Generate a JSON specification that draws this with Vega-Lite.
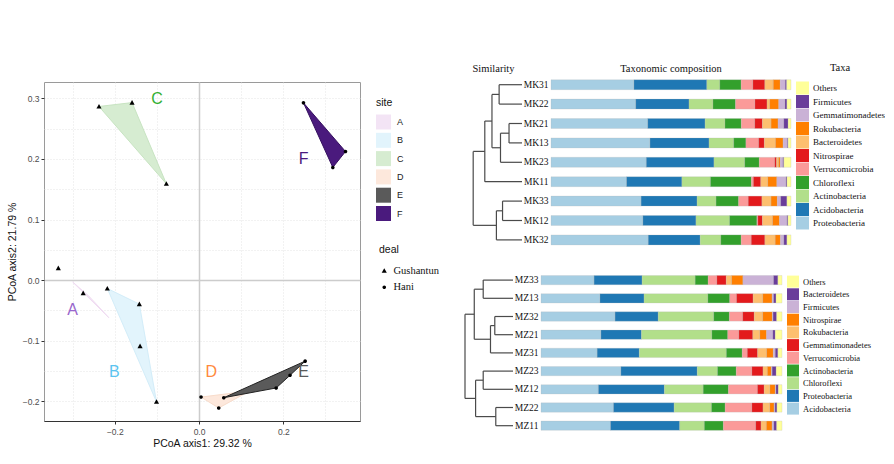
{
 "$schema": "https://vega.github.io/schema/vega-lite/v6.json",
 "background": "white",
 "padding": {"left": 6, "top": 63, "right": 0, "bottom": 0},
 "config": {"view": {"stroke": null}, "font": "Liberation Sans"},
 "datasets": {
  "pts": [
   {"x":-0.2375,"y":0.2866,"deal":"Gushantun"},{"x":-0.159,"y":0.293,"deal":"Gushantun"},{"x":-0.0776,"y":0.159,"deal":"Gushantun"},
   {"x":-0.334,"y":0.0198,"deal":"Gushantun"},{"x":-0.275,"y":-0.0215,"deal":"Gushantun"},{"x":-0.2177,"y":-0.0138,"deal":"Gushantun"},
   {"x":-0.1417,"y":-0.0396,"deal":"Gushantun"},{"x":-0.140,"y":-0.109,"deal":"Gushantun"},{"x":-0.101,"y":-0.2008,"deal":"Gushantun"},
   {"x":0.2478,"y":0.2926,"deal":"Hani"},{"x":0.3476,"y":0.2123,"deal":"Hani"},{"x":0.3175,"y":0.186,"deal":"Hani"},
   {"x":0.0048,"y":-0.193,"deal":"Hani"},{"x":0.0467,"y":-0.211,"deal":"Hani"},{"x":0.0587,"y":-0.194,"deal":"Hani"},
   {"x":0.183,"y":-0.178,"deal":"Hani"},{"x":0.216,"y":-0.157,"deal":"Hani"},{"x":0.2518,"y":-0.1337,"deal":"Hani"}
  ],
  "hulls": [
   {"site":"A","o":1,"x":-0.300,"y":-0.003},{"site":"A","o":2,"x":-0.214,"y":-0.062},{"site":"A","o":3,"x":-0.262,"y":-0.026},
   {"site":"B","o":1,"x":-0.2177,"y":-0.0138},{"site":"B","o":2,"x":-0.1417,"y":-0.0396},{"site":"B","o":3,"x":-0.101,"y":-0.2008},
   {"site":"C","o":1,"x":-0.2375,"y":0.2866},{"site":"C","o":2,"x":-0.159,"y":0.293},{"site":"C","o":3,"x":-0.0776,"y":0.159},
   {"site":"D","o":1,"x":0.0048,"y":-0.193},{"site":"D","o":2,"x":0.0467,"y":-0.211},{"site":"D","o":3,"x":0.12,"y":-0.183},
   {"site":"E","o":1,"x":0.0587,"y":-0.194},{"site":"E","o":2,"x":0.183,"y":-0.178},{"site":"E","o":3,"x":0.216,"y":-0.157},{"site":"E","o":4,"x":0.2518,"y":-0.1337},
   {"site":"F","o":1,"x":0.2478,"y":0.2926},{"site":"F","o":2,"x":0.3476,"y":0.2123},{"site":"F","o":3,"x":0.3175,"y":0.186}
  ],
  "labs": [
   {"site":"A","x":-0.300,"y":-0.050},{"site":"B","x":-0.201,"y":-0.152},{"site":"C","x":-0.0998,"y":0.299},
   {"site":"D","x":0.029,"y":-0.152},{"site":"E","x":0.248,"y":-0.152},{"site":"F","x":0.248,"y":0.2}
  ],
  "dtop": [
   {"h1":0,"h2":67,"y1":0,"y2":0},{"h1":0,"h2":67,"y1":1,"y2":1},{"h1":0,"h2":38,"y1":2,"y2":2},{"h1":0,"h2":38,"y1":3,"y2":3},
   {"h1":0,"h2":63,"y1":4,"y2":4},{"h1":0,"h2":109,"y1":5,"y2":5},{"h1":0,"h2":57,"y1":6,"y2":6},{"h1":0,"h2":57,"y1":7,"y2":7},
   {"h1":0,"h2":75,"y1":8,"y2":8},
   {"h1":67,"h2":88,"y1":0.5,"y2":0.5},{"h1":38,"h2":63,"y1":2.5,"y2":2.5},{"h1":63,"h2":88,"y1":3.25,"y2":3.25},
   {"h1":88,"h2":109,"y1":1.875,"y2":1.875},{"h1":109,"h2":143,"y1":3.4375,"y2":3.4375},{"h1":57,"h2":75,"y1":6.5,"y2":6.5},
   {"h1":75,"h2":143,"y1":7.25,"y2":7.25},
   {"h1":67,"h2":67,"y1":0,"y2":1},{"h1":38,"h2":38,"y1":2,"y2":3},{"h1":63,"h2":63,"y1":2.5,"y2":4},{"h1":88,"h2":88,"y1":0.5,"y2":3.25},
   {"h1":109,"h2":109,"y1":1.875,"y2":5},{"h1":57,"h2":57,"y1":6,"y2":7},{"h1":75,"h2":75,"y1":6.5,"y2":8},{"h1":143,"h2":143,"y1":3.4375,"y2":7.25}
  ],
  "dbot": [
   {"h1":0,"h2":90,"y1":0,"y2":0},{"h1":0,"h2":90,"y1":1,"y2":1},{"h1":0,"h2":55,"y1":2,"y2":2},{"h1":0,"h2":55,"y1":3,"y2":3},
   {"h1":0,"h2":68,"y1":4,"y2":4},{"h1":0,"h2":90,"y1":5,"y2":5},{"h1":0,"h2":90,"y1":6,"y2":6},{"h1":0,"h2":52,"y1":7,"y2":7},
   {"h1":0,"h2":52,"y1":8,"y2":8},
   {"h1":90,"h2":117,"y1":0.5,"y2":0.5},{"h1":55,"h2":68,"y1":2.5,"y2":2.5},{"h1":68,"h2":117,"y1":3.25,"y2":3.25},
   {"h1":117,"h2":145,"y1":1.875,"y2":1.875},{"h1":90,"h2":113,"y1":5.5,"y2":5.5},{"h1":52,"h2":113,"y1":7.5,"y2":7.5},
   {"h1":113,"h2":145,"y1":6.5,"y2":6.5},
   {"h1":90,"h2":90,"y1":0,"y2":1},{"h1":55,"h2":55,"y1":2,"y2":3},{"h1":68,"h2":68,"y1":2.5,"y2":4},{"h1":117,"h2":117,"y1":0.5,"y2":3.25},
   {"h1":90,"h2":90,"y1":5,"y2":6},{"h1":52,"h2":52,"y1":7,"y2":8},{"h1":113,"h2":113,"y1":5.5,"y2":7.5},{"h1":145,"h2":145,"y1":1.875,"y2":6.5}
  ],
  "btop": [
   {"s":"MK31","t":"Proteobacteria","o":1,"v":34.6},{"s":"MK31","t":"Acidobacteria","o":2,"v":30.4},{"s":"MK31","t":"Actinobacteria","o":3,"v":5.4},{"s":"MK31","t":"Chloroflexi","o":4,"v":8.9},{"s":"MK31","t":"Verrucomicrobia","o":5,"v":4.9},{"s":"MK31","t":"Nitrospirae","o":6,"v":5.0},{"s":"MK31","t":"Bacteroidetes","o":7,"v":3.5},{"s":"MK31","t":"Rokubacteria","o":8,"v":2.9},{"s":"MK31","t":"Gemmatimonadetes","o":9,"v":2.1},{"s":"MK31","t":"Firmicutes","o":10,"v":0.6},{"s":"MK31","t":"Others","o":11,"v":1.8},
   {"s":"MK22","t":"Proteobacteria","o":1,"v":35.3},{"s":"MK22","t":"Acidobacteria","o":2,"v":22.2},{"s":"MK22","t":"Actinobacteria","o":3,"v":10.0},{"s":"MK22","t":"Chloroflexi","o":4,"v":9.4},{"s":"MK22","t":"Verrucomicrobia","o":5,"v":8.1},{"s":"MK22","t":"Nitrospirae","o":6,"v":5.0},{"s":"MK22","t":"Bacteroidetes","o":7,"v":1.1},{"s":"MK22","t":"Rokubacteria","o":8,"v":3.8},{"s":"MK22","t":"Gemmatimonadetes","o":9,"v":2.6},{"s":"MK22","t":"Firmicutes","o":10,"v":0.8},{"s":"MK22","t":"Others","o":11,"v":1.7},
   {"s":"MK21","t":"Proteobacteria","o":1,"v":40.3},{"s":"MK21","t":"Acidobacteria","o":2,"v":23.9},{"s":"MK21","t":"Actinobacteria","o":3,"v":8.3},{"s":"MK21","t":"Chloroflexi","o":4,"v":6.8},{"s":"MK21","t":"Verrucomicrobia","o":5,"v":5.6},{"s":"MK21","t":"Nitrospirae","o":6,"v":3.2},{"s":"MK21","t":"Bacteroidetes","o":7,"v":3.6},{"s":"MK21","t":"Rokubacteria","o":8,"v":2.9},{"s":"MK21","t":"Gemmatimonadetes","o":9,"v":2.4},{"s":"MK21","t":"Firmicutes","o":10,"v":1.8},{"s":"MK21","t":"Others","o":11,"v":1.2},
   {"s":"MK13","t":"Proteobacteria","o":1,"v":41.3},{"s":"MK13","t":"Acidobacteria","o":2,"v":24.6},{"s":"MK13","t":"Actinobacteria","o":3,"v":10.3},{"s":"MK13","t":"Chloroflexi","o":4,"v":5.1},{"s":"MK13","t":"Verrucomicrobia","o":5,"v":5.3},{"s":"MK13","t":"Nitrospirae","o":6,"v":2.4},{"s":"MK13","t":"Bacteroidetes","o":7,"v":4.6},{"s":"MK13","t":"Rokubacteria","o":8,"v":3.2},{"s":"MK13","t":"Gemmatimonadetes","o":9,"v":1.8},{"s":"MK13","t":"Firmicutes","o":10,"v":0.3},{"s":"MK13","t":"Others","o":11,"v":1.2},
   {"s":"MK23","t":"Proteobacteria","o":1,"v":39.7},{"s":"MK23","t":"Acidobacteria","o":2,"v":28.2},{"s":"MK23","t":"Actinobacteria","o":3,"v":12.8},{"s":"MK23","t":"Chloroflexi","o":4,"v":6.1},{"s":"MK23","t":"Verrucomicrobia","o":5,"v":6.4},{"s":"MK23","t":"Nitrospirae","o":6,"v":0.8},{"s":"MK23","t":"Bacteroidetes","o":7,"v":0.8},{"s":"MK23","t":"Rokubacteria","o":8,"v":0.7},{"s":"MK23","t":"Gemmatimonadetes","o":9,"v":1.1},{"s":"MK23","t":"Firmicutes","o":10,"v":0.4},{"s":"MK23","t":"Others","o":11,"v":3.0},
   {"s":"MK11","t":"Proteobacteria","o":1,"v":31.5},{"s":"MK11","t":"Acidobacteria","o":2,"v":23.1},{"s":"MK11","t":"Actinobacteria","o":3,"v":11.9},{"s":"MK11","t":"Chloroflexi","o":4,"v":17.1},{"s":"MK11","t":"Verrucomicrobia","o":5,"v":0.8},{"s":"MK11","t":"Nitrospirae","o":6,"v":3.1},{"s":"MK11","t":"Bacteroidetes","o":7,"v":2.9},{"s":"MK11","t":"Rokubacteria","o":8,"v":3.8},{"s":"MK11","t":"Gemmatimonadetes","o":9,"v":3.8},{"s":"MK11","t":"Firmicutes","o":10,"v":0.4},{"s":"MK11","t":"Others","o":11,"v":1.7},
   {"s":"MK33","t":"Proteobacteria","o":1,"v":37.5},{"s":"MK33","t":"Acidobacteria","o":2,"v":23.3},{"s":"MK33","t":"Actinobacteria","o":3,"v":7.9},{"s":"MK33","t":"Chloroflexi","o":4,"v":9.4},{"s":"MK33","t":"Verrucomicrobia","o":5,"v":4.0},{"s":"MK33","t":"Nitrospirae","o":6,"v":5.7},{"s":"MK33","t":"Bacteroidetes","o":7,"v":3.8},{"s":"MK33","t":"Rokubacteria","o":8,"v":2.6},{"s":"MK33","t":"Gemmatimonadetes","o":9,"v":1.4},{"s":"MK33","t":"Firmicutes","o":10,"v":2.6},{"s":"MK33","t":"Others","o":11,"v":1.7},
   {"s":"MK12","t":"Proteobacteria","o":1,"v":38.3},{"s":"MK12","t":"Acidobacteria","o":2,"v":22.1},{"s":"MK12","t":"Actinobacteria","o":3,"v":14.0},{"s":"MK12","t":"Chloroflexi","o":4,"v":11.4},{"s":"MK12","t":"Verrucomicrobia","o":5,"v":0.4},{"s":"MK12","t":"Nitrospirae","o":6,"v":1.9},{"s":"MK12","t":"Bacteroidetes","o":7,"v":4.2},{"s":"MK12","t":"Rokubacteria","o":8,"v":2.9},{"s":"MK12","t":"Gemmatimonadetes","o":9,"v":3.1},{"s":"MK12","t":"Firmicutes","o":10,"v":0.4},{"s":"MK12","t":"Others","o":11,"v":1.3},
   {"s":"MK32","t":"Proteobacteria","o":1,"v":40.6},{"s":"MK32","t":"Acidobacteria","o":2,"v":21.7},{"s":"MK32","t":"Actinobacteria","o":3,"v":8.6},{"s":"MK32","t":"Chloroflexi","o":4,"v":8.5},{"s":"MK32","t":"Verrucomicrobia","o":5,"v":4.2},{"s":"MK32","t":"Nitrospirae","o":6,"v":5.7},{"s":"MK32","t":"Bacteroidetes","o":7,"v":4.3},{"s":"MK32","t":"Rokubacteria","o":8,"v":2.2},{"s":"MK32","t":"Gemmatimonadetes","o":9,"v":1.4},{"s":"MK32","t":"Firmicutes","o":10,"v":1.3},{"s":"MK32","t":"Others","o":11,"v":1.7}
  ],
  "bbot": [
   {"s":"MZ33","t":"Acidobacteria","o":1,"v":22.0},{"s":"MZ33","t":"Proteobacteria","o":2,"v":19.9},{"s":"MZ33","t":"Chloroflexi","o":3,"v":22.0},{"s":"MZ33","t":"Actinobacteria","o":4,"v":5.4},{"s":"MZ33","t":"Verrucomicrobia","o":5,"v":3.6},{"s":"MZ33","t":"Gemmatimonadetes","o":6,"v":3.9},{"s":"MZ33","t":"Rokubacteria","o":7,"v":2.2},{"s":"MZ33","t":"Nitrospirae","o":8,"v":4.7},{"s":"MZ33","t":"Firmicutes","o":9,"v":12.7},{"s":"MZ33","t":"Bacteroidetes","o":10,"v":1.8},{"s":"MZ33","t":"Others","o":11,"v":1.7},
   {"s":"MZ13","t":"Acidobacteria","o":1,"v":24.5},{"s":"MZ13","t":"Proteobacteria","o":2,"v":18.3},{"s":"MZ13","t":"Chloroflexi","o":3,"v":26.5},{"s":"MZ13","t":"Actinobacteria","o":4,"v":9.1},{"s":"MZ13","t":"Verrucomicrobia","o":5,"v":2.8},{"s":"MZ13","t":"Gemmatimonadetes","o":6,"v":6.9},{"s":"MZ13","t":"Rokubacteria","o":7,"v":4.0},{"s":"MZ13","t":"Nitrospirae","o":8,"v":3.9},{"s":"MZ13","t":"Firmicutes","o":9,"v":0.6},{"s":"MZ13","t":"Bacteroidetes","o":10,"v":1.0},{"s":"MZ13","t":"Others","o":11,"v":2.5},
   {"s":"MZ32","t":"Acidobacteria","o":1,"v":30.7},{"s":"MZ32","t":"Proteobacteria","o":2,"v":17.9},{"s":"MZ32","t":"Chloroflexi","o":3,"v":23.0},{"s":"MZ32","t":"Actinobacteria","o":4,"v":6.5},{"s":"MZ32","t":"Verrucomicrobia","o":5,"v":5.5},{"s":"MZ32","t":"Gemmatimonadetes","o":6,"v":4.8},{"s":"MZ32","t":"Rokubacteria","o":7,"v":3.5},{"s":"MZ32","t":"Nitrospirae","o":8,"v":4.0},{"s":"MZ32","t":"Firmicutes","o":9,"v":0.3},{"s":"MZ32","t":"Bacteroidetes","o":10,"v":1.5},{"s":"MZ32","t":"Others","o":11,"v":2.2},
   {"s":"MZ21","t":"Acidobacteria","o":1,"v":24.9},{"s":"MZ21","t":"Proteobacteria","o":2,"v":16.8},{"s":"MZ21","t":"Chloroflexi","o":3,"v":29.2},{"s":"MZ21","t":"Actinobacteria","o":4,"v":6.6},{"s":"MZ21","t":"Verrucomicrobia","o":5,"v":4.6},{"s":"MZ21","t":"Gemmatimonadetes","o":6,"v":5.8},{"s":"MZ21","t":"Rokubacteria","o":7,"v":2.9},{"s":"MZ21","t":"Nitrospirae","o":8,"v":2.8},{"s":"MZ21","t":"Firmicutes","o":9,"v":2.6},{"s":"MZ21","t":"Bacteroidetes","o":10,"v":1.0},{"s":"MZ21","t":"Others","o":11,"v":2.8},
   {"s":"MZ31","t":"Acidobacteria","o":1,"v":23.3},{"s":"MZ31","t":"Proteobacteria","o":2,"v":17.5},{"s":"MZ31","t":"Chloroflexi","o":3,"v":36.1},{"s":"MZ31","t":"Actinobacteria","o":4,"v":6.6},{"s":"MZ31","t":"Verrucomicrobia","o":5,"v":2.1},{"s":"MZ31","t":"Gemmatimonadetes","o":6,"v":4.3},{"s":"MZ31","t":"Rokubacteria","o":7,"v":3.7},{"s":"MZ31","t":"Nitrospirae","o":8,"v":2.8},{"s":"MZ31","t":"Firmicutes","o":9,"v":0.8},{"s":"MZ31","t":"Bacteroidetes","o":10,"v":1.1},{"s":"MZ31","t":"Others","o":11,"v":1.7},
   {"s":"MZ23","t":"Acidobacteria","o":1,"v":33.2},{"s":"MZ23","t":"Proteobacteria","o":2,"v":31.7},{"s":"MZ23","t":"Chloroflexi","o":3,"v":8.4},{"s":"MZ23","t":"Actinobacteria","o":4,"v":7.8},{"s":"MZ23","t":"Verrucomicrobia","o":5,"v":6.5},{"s":"MZ23","t":"Gemmatimonadetes","o":6,"v":4.6},{"s":"MZ23","t":"Rokubacteria","o":7,"v":1.8},{"s":"MZ23","t":"Nitrospirae","o":8,"v":1.7},{"s":"MZ23","t":"Firmicutes","o":9,"v":0.3},{"s":"MZ23","t":"Bacteroidetes","o":10,"v":1.7},{"s":"MZ23","t":"Others","o":11,"v":2.4},
   {"s":"MZ12","t":"Acidobacteria","o":1,"v":23.8},{"s":"MZ12","t":"Proteobacteria","o":2,"v":27.4},{"s":"MZ12","t":"Chloroflexi","o":3,"v":16.1},{"s":"MZ12","t":"Actinobacteria","o":4,"v":10.5},{"s":"MZ12","t":"Verrucomicrobia","o":5,"v":12.0},{"s":"MZ12","t":"Gemmatimonadetes","o":6,"v":2.8},{"s":"MZ12","t":"Rokubacteria","o":7,"v":2.4},{"s":"MZ12","t":"Nitrospirae","o":8,"v":2.2},{"s":"MZ12","t":"Firmicutes","o":9,"v":0.3},{"s":"MZ12","t":"Bacteroidetes","o":10,"v":1.0},{"s":"MZ12","t":"Others","o":11,"v":1.5},
   {"s":"MZ22","t":"Acidobacteria","o":1,"v":30.1},{"s":"MZ22","t":"Proteobacteria","o":2,"v":25.2},{"s":"MZ22","t":"Chloroflexi","o":3,"v":15.5},{"s":"MZ22","t":"Actinobacteria","o":4,"v":5.7},{"s":"MZ22","t":"Verrucomicrobia","o":5,"v":11.1},{"s":"MZ22","t":"Gemmatimonadetes","o":6,"v":4.6},{"s":"MZ22","t":"Rokubacteria","o":7,"v":2.8},{"s":"MZ22","t":"Nitrospirae","o":8,"v":1.8},{"s":"MZ22","t":"Firmicutes","o":9,"v":0.4},{"s":"MZ22","t":"Bacteroidetes","o":10,"v":0.8},{"s":"MZ22","t":"Others","o":11,"v":2.1},
   {"s":"MZ11","t":"Acidobacteria","o":1,"v":28.8},{"s":"MZ11","t":"Proteobacteria","o":2,"v":28.7},{"s":"MZ11","t":"Chloroflexi","o":3,"v":10.2},{"s":"MZ11","t":"Actinobacteria","o":4,"v":7.9},{"s":"MZ11","t":"Verrucomicrobia","o":5,"v":13.4},{"s":"MZ11","t":"Gemmatimonadetes","o":6,"v":2.2},{"s":"MZ11","t":"Rokubacteria","o":7,"v":2.2},{"s":"MZ11","t":"Nitrospirae","o":8,"v":2.4},{"s":"MZ11","t":"Firmicutes","o":9,"v":0.7},{"s":"MZ11","t":"Bacteroidetes","o":10,"v":1.2},{"s":"MZ11","t":"Others","o":11,"v":2.2}
  ]
 },
 "spacing": 24,
 "resolve": {"scale": {"color": "independent", "fill": "independent", "stroke": "independent", "shape": "independent", "x": "independent", "y": "independent"}, "legend": {"color": "independent", "fill": "independent", "shape": "independent"}},
 "hconcat": [
  {
   "spacing": 4,
   "resolve": {"scale": {"color": "independent", "fill": "independent", "stroke": "independent", "shape": "independent", "x": "independent", "y": "independent"}, "legend": {"color": "independent", "fill": "independent", "shape": "independent"}},
   "vconcat": [
    {"width": 1, "height": 2, "data": {"values": []}, "mark": "point", "encoding": {}},
    {
     "width": 316, "height": 339,
     "view": {"stroke": "#9a9a9a"},
     "encoding": {
      "x": {"field": "x", "type": "quantitative",
       "scale": {"domain": [-0.368, 0.382], "nice": false, "zero": false},
       "axis": {"title": "PCoA axis1:  29.32 %", "values": [-0.3, -0.2, -0.1, 0, 0.1, 0.2, 0.3],
        "labelExpr": "abs(round(datum.value*10)) % 2 == 0 ? format(datum.value, '.1f') : ''",
        "grid": true,
        "gridDash": {"condition": {"test": "abs(datum.value) < 0.001", "value": [1, 0]}, "value": [1, 2]},
        "gridColor": {"condition": {"test": "abs(datum.value) < 0.001", "value": "#cccccc"}, "value": "#dedede"},
        "gridWidth": {"condition": {"test": "abs(datum.value) < 0.001", "value": 1.5}, "value": 0.8},
        "tickOpacity": {"condition": {"test": "abs(round(datum.value*10)) % 2 == 0", "value": 1}, "value": 0},
        "tickSize": 3, "tickColor": "#333", "domainColor": "#333",
        "labelFontSize": 8.5, "labelColor": "#4d4d4d", "labelPadding": 3, "labelFlush": false,
        "titleFontSize": 10.5, "titleFontWeight": "normal", "titleColor": "#111", "titlePadding": 3}},
      "y": {"field": "y", "type": "quantitative",
       "scale": {"domain": [-0.2325, 0.327], "nice": false, "zero": false},
       "axis": {"title": "PCoA axis2:  21.79 %", "values": [-0.2, -0.15, -0.1, -0.05, 0, 0.05, 0.1, 0.15, 0.2, 0.25, 0.3],
        "labelExpr": "abs(round(datum.value*100)) % 10 == 0 ? format(datum.value, '.1f') : ''",
        "grid": true, "domain": false,
        "gridDash": {"condition": {"test": "abs(datum.value) < 0.001", "value": [1, 0]}, "value": [1, 2]},
        "gridColor": {"condition": {"test": "abs(datum.value) < 0.001", "value": "#cccccc"}, "value": "#dedede"},
        "gridWidth": {"condition": {"test": "abs(datum.value) < 0.001", "value": 1.5}, "value": 0.8},
        "tickOpacity": {"condition": {"test": "abs(round(datum.value*100)) % 10 == 0", "value": 1}, "value": 0},
        "tickSize": 3, "tickColor": "#333",
        "labelFontSize": 8.5, "labelColor": "#4d4d4d", "labelPadding": 2, "labelFlush": false,
        "titleFontSize": 10.5, "titleFontWeight": "normal", "titleColor": "#111", "titlePadding": 5}}
     },
     "layer": [
      {"data": {"name": "hulls"},
       "mark": {"type": "line", "interpolate": "linear-closed", "strokeWidth": 1},
       "encoding": {
        "order": {"field": "o", "type": "quantitative"},
        "fill": {"field": "site", "type": "nominal",
         "scale": {"domain": ["A", "B", "C", "D", "E", "F"], "range": ["#f3e4f5", "#e2f4fc", "#d6ecd1", "#fde8dc", "#5a5a5a", "#4a1a7d"]},
         "legend": {"title": "site", "orient": "none", "legendX": 332, "legendY": 16, "symbolType": "square", "symbolSize": 225, "symbolStrokeWidth": 0, "rowPadding": 3.3,
          "labelFontSize": 9, "labelColor": "#222", "labelOffset": 6, "titleFontSize": 10.5, "titleFontWeight": "normal", "titleColor": "#111", "titlePadding": 6}},
        "stroke": {"field": "site", "type": "nominal",
         "scale": {"domain": ["A", "B", "C", "D", "E", "F"], "range": ["#f0dcf2", "#d3edf9", "#c8e4c2", "#f8dccb", "#222222", "#35105f"]},
         "legend": null}
       }},
      {"data": {"name": "pts"},
       "mark": {"type": "point", "filled": true, "color": "#000", "opacity": 1, "size": 26},
       "encoding": {
        "shape": {"field": "deal", "type": "nominal",
         "scale": {"domain": ["Gushantun", "Hani"], "range": ["M0,-1L1,0.8L-1,0.8Z", "M0.7,0A0.7,0.7,0,1,1,-0.7,0A0.7,0.7,0,1,1,0.7,0Z"]},
         "legend": {"title": "deal", "orient": "none", "legendX": 335, "legendY": 163, "symbolSize": 26, "symbolFillColor": "#000", "symbolStrokeWidth": 0, "rowPadding": 5.5,
          "labelFont": "Liberation Serif", "labelFontSize": 10.5, "labelColor": "#111", "labelOffset": 4, "titleFontSize": 10.5, "titleFontWeight": "normal", "titleColor": "#111", "titlePadding": 10}}
       }},
      {"data": {"name": "labs"},
       "mark": {"type": "text", "fontSize": 16, "font": "Liberation Sans"},
       "encoding": {
        "text": {"field": "site", "type": "nominal"},
        "color": {"field": "site", "type": "nominal", "scale": {"domain": ["A", "B", "C", "D", "E", "F"], "range": ["#9966cc", "#5bc4f0", "#33b033", "#ff8a3d", "#5a5a5a", "#4a1a7d"]}, "legend": null}
       }}
     ]
    }
   ]
  },
  {
   "spacing": 21,
   "resolve": {"scale": {"color": "independent", "x": "independent", "y": "independent"}, "legend": {"color": "independent"}},
   "vconcat": [
    {
     "spacing": 0,
     "resolve": {"scale": {"x": "independent", "y": "independent"}},
     "hconcat": [
      {"width": 57, "height": 174.6,
       "title": {"text": "Similarity", "font": "Liberation Serif", "fontSize": 10.5, "fontWeight": "normal", "anchor": "middle", "frame": "group", "offset": 1, "color": "#111"},
       "data": {"name": "dtop"},
       "mark": {"type": "rule", "color": "#4a4a4a", "strokeWidth": 1.2},
       "encoding": {
        "x": {"field": "h1", "type": "quantitative", "scale": {"domain": [0, 167], "reverse": true, "nice": false, "zero": false}, "axis": null},
        "x2": {"field": "h2"},
        "y": {"field": "y1", "type": "quantitative", "scale": {"domain": [-0.5, 8.5], "reverse": true, "nice": false, "zero": false}, "axis": null},
        "y2": {"field": "y2"}
       }},
      {"width": 240, "height": 174.6,
       "title": {"text": "Taxonomic composition", "font": "Liberation Serif", "fontSize": 10.5, "fontWeight": "normal", "anchor": "middle", "frame": "group", "offset": 1, "color": "#111"},
       "data": {"name": "btop"},
       "mark": {"type": "bar", "stroke": "#b8b8b8", "strokeWidth": 0.4, "strokeOpacity": 0.6},
       "encoding": {
        "y": {"field": "s", "type": "nominal",
         "scale": {"domain": ["MK31", "MK22", "MK21", "MK13", "MK23", "MK11", "MK33", "MK12", "MK32"], "paddingInner": 0.485, "paddingOuter": 0.2425},
         "axis": {"title": null, "ticks": false, "domain": false, "labelFont": "Liberation Serif", "labelFontSize": 9.5, "labelColor": "#111", "labelPadding": 3}},
        "x": {"field": "v", "type": "quantitative", "stack": "normalize", "scale": {"domain": [0, 1], "nice": false}, "axis": null},
        "order": {"field": "o", "type": "quantitative"},
        "color": {"field": "t", "type": "nominal",
         "scale": {"domain": ["Others", "Firmicutes", "Gemmatimonadetes", "Rokubacteria", "Bacteroidetes", "Nitrospirae", "Verrucomicrobia", "Chloroflexi", "Actinobacteria", "Acidobacteria", "Proteobacteria"],
          "range": ["#ffff99", "#6a3d9a", "#cab2d6", "#ff7f00", "#fdbf6f", "#e31a1c", "#fb9a99", "#33a02c", "#b2df8a", "#1f78b4", "#a6cee3"]},
         "legend": {"title": "Taxa", "orient": "none", "legendX": 331, "legendY": -12, "symbolType": "square", "symbolSize": 169, "symbolStrokeWidth": 0, "rowPadding": 0.5,
          "labelFont": "Liberation Serif", "labelFontSize": 9, "labelColor": "#111", "labelOffset": 4,
          "titleFont": "Liberation Serif", "titleFontSize": 10.5, "titleFontWeight": "normal", "titleColor": "#111", "titleAnchor": "middle", "titlePadding": 8}}
       }}
     ]
    },
    {
     "spacing": 0,
     "resolve": {"scale": {"x": "independent", "y": "independent"}},
     "hconcat": [
      {"width": 48, "height": 163.8,
       "data": {"name": "dbot"},
       "mark": {"type": "rule", "color": "#4a4a4a", "strokeWidth": 1.2},
       "encoding": {
        "x": {"field": "h1", "type": "quantitative", "scale": {"domain": [0, 145], "reverse": true, "nice": false, "zero": false}, "axis": null},
        "x2": {"field": "h2"},
        "y": {"field": "y1", "type": "quantitative", "scale": {"domain": [-0.5, 8.5], "reverse": true, "nice": false, "zero": false}, "axis": null},
        "y2": {"field": "y2"}
       }},
      {"width": 241, "height": 163.8,
       "data": {"name": "bbot"},
       "mark": {"type": "bar", "stroke": "#b8b8b8", "strokeWidth": 0.4, "strokeOpacity": 0.6},
       "encoding": {
        "y": {"field": "s", "type": "nominal",
         "scale": {"domain": ["MZ33", "MZ13", "MZ32", "MZ21", "MZ31", "MZ23", "MZ12", "MZ22", "MZ11"], "paddingInner": 0.49, "paddingOuter": 0.245},
         "axis": {"title": null, "ticks": false, "domain": false, "labelFont": "Liberation Serif", "labelFontSize": 9.5, "labelColor": "#111", "labelPadding": 3}},
        "x": {"field": "v", "type": "quantitative", "stack": "normalize", "scale": {"domain": [0, 1], "nice": false}, "axis": null},
        "order": {"field": "o", "type": "quantitative"},
        "color": {"field": "t", "type": "nominal",
         "scale": {"domain": ["Others", "Bacteroidetes", "Firmicutes", "Nitrospirae", "Rokubacteria", "Gemmatimonadetes", "Verrucomicrobia", "Actinobacteria", "Chloroflexi", "Proteobacteria", "Acidobacteria"],
          "range": ["#ffff99", "#6a3d9a", "#cab2d6", "#ff7f00", "#fdbf6f", "#e31a1c", "#fb9a99", "#33a02c", "#b2df8a", "#1f78b4", "#a6cee3"]},
         "legend": {"title": null, "orient": "none", "legendX": 322, "legendY": 4.6, "symbolType": "square", "symbolSize": 144, "symbolStrokeWidth": 0, "rowPadding": 0.7,
          "labelFont": "Liberation Serif", "labelFontSize": 8.5, "labelColor": "#111", "labelOffset": 4}}
       }}
     ]
    }
   ]
  }
 ]
}
